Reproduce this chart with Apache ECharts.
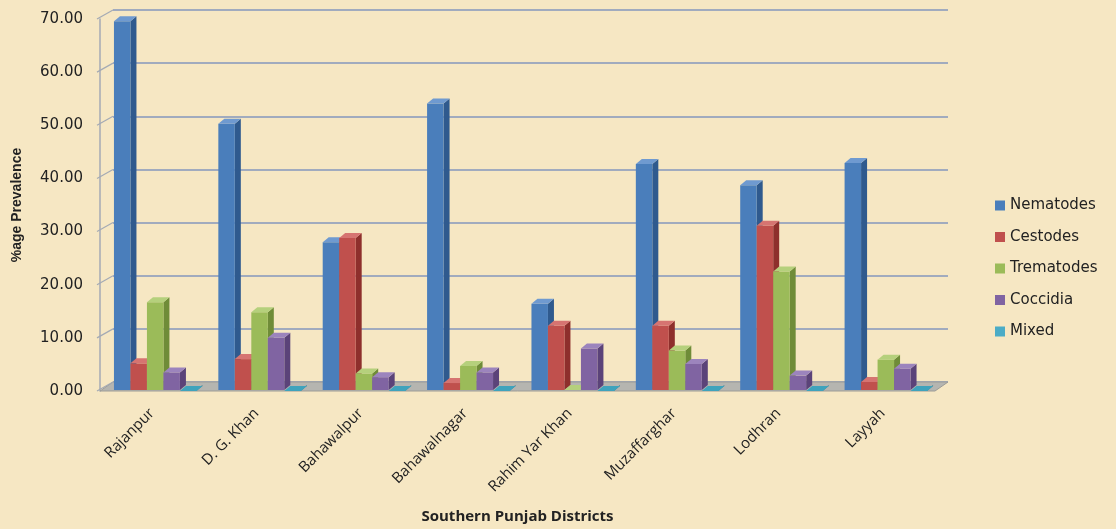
<!DOCTYPE html>
<html><head><meta charset="utf-8">
<script src="https://cdn.jsdelivr.net/npm/echarts@6/dist/echarts.min.js"></script>
<style>html,body{margin:0;padding:0;background:#F6E7C3;}#c{width:1116px;height:529px;}</style>
</head><body><div id="c"></div>
<script>
const districts = ['Rajanpur','D. G. Khan','Bahawalpur','Bahawalnagar','Rahim Yar Khan','Muzaffarghar','Lodhran','Layyah'];
const nematodes  = [69.6, 50.3, 28.0, 54.1, 16.4, 42.7, 38.7, 42.9];
const cestodes   = [5.2, 6.0, 28.8, 1.5, 12.3, 12.3, 31.1, 1.7];
const trematodes = [16.7, 14.8, 3.3, 4.7, 0.2, 7.6, 22.5, 5.9];
const coccidia   = [3.5, 10.0, 2.6, 3.5, 8.0, 5.1, 2.9, 4.2];
const mixed      = [0, 0, 0, 0, 0, 0, 0, 0];
const yTicks = [0, 10, 20, 30, 40, 50, 60, 70];

const seriesDefs = [
  {name:'Nematodes', data:nematodes, front:'#4A7EBB', side:'#2F5A8E', top:'#6F9AD0'},
  {name:'Cestodes', data:cestodes, front:'#C0504D', side:'#8E2F2C', top:'#D67471'},
  {name:'Trematodes', data:trematodes, front:'#9BBB59', side:'#6F8C38', top:'#B5D07C'},
  {name:'Coccidia', data:coccidia, front:'#8064A2', side:'#5B4379', top:'#9C84BD'},
  {name:'Mixed', data:mixed, front:'#4BACC6', side:'#2F8198', top:'#3FA3BC'}
];
const DX = 6, DY = 5, NB = seriesDefs.length;
const WX = 13, WY = 9; // wall offset

function barRenderer(si, def) {
  return function (params, api) {
    const idx = api.value(0), val = api.value(1);
    const top = api.coord([idx, val]);
    const base = api.coord([idx, 0]);
    const band = api.size([1, 0])[0];
    const bw = band * 0.158;
    const x = top[0] - bw * NB / 2 + 3 + si * bw;
    const yT = top[1], yB = base[1] - 1;
    return {
      type: 'group',
      children: [
        {type:'polygon', shape:{points:[[x+bw,yT],[x+bw+DX,yT-DY],[x+bw+DX,yB-DY],[x+bw,yB]]}, style:{fill:def.side}},
        {type:'rect', shape:{x:x, y:yT, width:bw, height:Math.max(0,yB-yT)}, style:{fill:def.front}},
        {type:'polygon', shape:{points:[[x,yT],[x+DX,yT-DY],[x+bw+DX,yT-DY],[x+bw,yT]]}, style:{fill:def.top}}
      ]
    };
  };
}

const series = seriesDefs.map((def, si) => ({
  name: def.name,
  type: 'custom',
  xAxisIndex: 0, yAxisIndex: 0,
  itemStyle: {color: def.front},
  renderItem: barRenderer(si, def),
  encode: {x: 0, y: 1},
  data: def.data.map((v, i) => [i, v]),
  z: 5
}));

// frame: floor + diagonal tick connectors
series.unshift({
  type: 'custom',
  name: 'frame',
  xAxisIndex: 0, yAxisIndex: 0,
  silent: true,
  z: 1,
  data: yTicks.map(v => [0, v]),
  renderItem: function (params, api) {
    const v = api.value(1);
    const p = api.coord([0, v]);
    const band = api.size([1, 0])[0];
    const x0 = p[0] - band / 2;
    const xEnd = x0 + band * districts.length;
    const children = [
      {type:'line', shape:{x1:x0-3, y1:p[1], x2:x0+WX, y2:p[1]-WY}, style:{stroke:'#a4aab4', lineWidth:1.2}}
    ];
    if (v === 0) {
      children.unshift({type:'polygon', shape:{points:[[x0,p[1]],[x0+WX,p[1]-WY],[xEnd+WX,p[1]-WY],[xEnd,p[1]]]},
        style:{fill:'#B5B5B0', stroke:'#9c9c98', lineWidth:1}});
    }
    return {type:'group', children};
  }
});

const chart = echarts.init(document.getElementById('c'));
chart.setOption({
  backgroundColor: '#F6E7C3',
  animation: false,
  legend: {
    orient: 'vertical', left: 990, top: 193,
    itemWidth: 10, itemHeight: 10, itemGap: 16.5,
    icon: 'rect',
    data: seriesDefs.map(d => d.name),
    textStyle: {fontFamily: 'DejaVu Sans', fontSize: 15, color: '#222'}
  },
  grid: [
    {left: 100, right: 181, top: 19, bottom: 138, outerBoundsMode: 'none', containLabel: false},
    {left: 113, right: 168, top: 10, bottom: 147, outerBoundsMode: 'none', containLabel: false}
  ],
  xAxis: [
    {type: 'category', gridIndex: 0, data: districts,
     axisLine: {show: false}, axisTick: {show: false},
     axisLabel: {rotate: 45, interval: 0, margin: 20, fontFamily: 'Open Sans', fontSize: 15, color: '#222'},
     name: 'Southern Punjab Districts', nameLocation: 'middle', nameGap: 118,
     nameTextStyle: {fontFamily: 'Open Sans', fontWeight: 'bold', fontSize: 15, color: '#222'}},
    {type: 'category', gridIndex: 1, data: districts, show: false}
  ],
  yAxis: [
    {type: 'value', gridIndex: 0, min: 0, max: 70, interval: 10,
     axisLine: {show: true, lineStyle: {color: '#a4aab4', width: 1.5}},
     axisTick: {show: false},
     splitLine: {show: false},
     axisLabel: {formatter: v => v.toFixed(2), fontFamily: 'DejaVu Sans', fontSize: 15, color: '#222', margin: 17},
     name: '%age Prevalence', nameLocation: 'middle', nameGap: 76, nameRotate: 90,
     nameTextStyle: {fontFamily: 'Liberation Sans Narrow, Liberation Sans', fontWeight: 'bold', fontSize: 14, color: '#222'}},
    {type: 'value', gridIndex: 1, min: 0, max: 70, interval: 10,
     axisLine: {show: false},
     axisTick: {show: false}, axisLabel: {show: false},
     splitLine: {show: true, lineStyle: {color: '#8497BC', width: 1.5}}}
  ],
  series: series
});
</script></body></html>
